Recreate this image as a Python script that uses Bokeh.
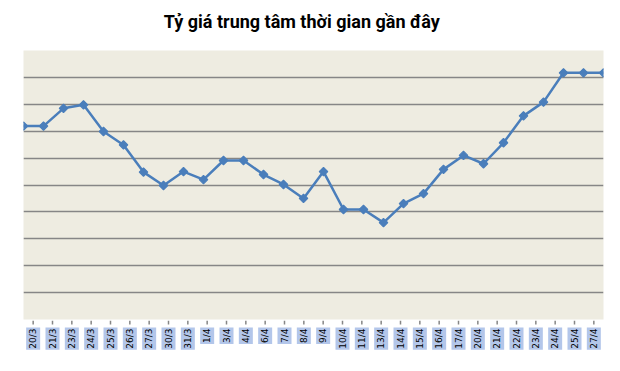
import math
from bokeh.plotting import figure
from bokeh.layouts import column
from bokeh.models import ColumnDataSource, Range1d, FixedTicker, Grid, Text
from bokeh.core.properties import value
from bokeh.embed import file_html
from bokeh.resources import INLINE

title = "Tỷ giá trung tâm thời gian gần đây"
dates = ["20/3", "21/3", "23/3", "24/3", "25/3", "26/3", "27/3", "30/3", "31/3",
         "1/4", "3/4", "4/4", "6/4", "7/4", "8/4", "9/4", "10/4", "11/4", "13/4",
         "14/4", "15/4", "16/4", "17/4", "20/4", "21/4", "22/4", "23/4", "24/4",
         "25/4", "27/4"]
rate = [7.19, 7.19, 7.85, 7.98, 6.99, 6.49, 5.48, 4.98, 5.50, 5.20, 5.91, 5.91,
        5.39, 5.02, 4.50, 5.50, 4.09, 4.09, 3.60, 4.31, 4.68, 5.58, 6.10, 5.79,
        6.57, 7.57, 8.08, 9.17, 9.17, 9.17]
grid_levels = list(range(0, 11))

xs = list(range(len(dates)))
src = ColumnDataSource(dict(x=xs, rate=rate, label=dates))

W = 620


def bare(fig):
    fig.outline_line_color = None
    fig.background_fill_color = "white"
    fig.border_fill_color = "white"
    for g in fig.grid:
        g.visible = False


# --- title strip ---
t = figure(width=W, height=49, output_backend="svg", toolbar_location=None,
           x_range=Range1d(0, W), y_range=Range1d(0, 49),
           x_axis_location=None, y_axis_location=None,
           min_border_left=0, min_border_right=0, min_border_top=0, min_border_bottom=0)
bare(t)
t.text(x=[150], y=[28], text=[title], text_font=value("Roboto"),
       text_font_size="18px", text_font_style="bold", text_color="black",
       text_align="left", text_baseline="alphabetic")

# --- main chart ---
p = figure(width=W, height=271, output_backend="svg", toolbar_location=None,
           x_range=Range1d(0, len(dates) - 1), y_range=Range1d(0, 10),
           x_axis_location=None, y_axis_location=None,
           min_border_left=23, min_border_right=17, min_border_top=1, min_border_bottom=1)
bare(p)
p.background_fill_color = "#eeece1"
p.add_layout(Grid(dimension=1, ticker=FixedTicker(ticks=grid_levels),
                  grid_line_color="#868686", grid_line_width=1.5))

p.line("x", "rate", source=src, line_color="#4a7ebb", line_width=2.5)
p.scatter("x", "rate", source=src, marker="square", angle=math.pi / 4, size=6,
          fill_color="#4a7ebb", line_color="#4a7ebb", line_width=1.2)

# --- category label strip, same 20 px per category as the chart ---
q = figure(width=W, height=51, output_backend="svg", toolbar_location=None,
           x_range=Range1d(-0.5, len(dates) - 0.5), y_range=Range1d(0, 51),
           x_axis_location=None, y_axis_location=None,
           min_border_left=13, min_border_right=7, min_border_top=0, min_border_bottom=0)
bare(q)

# tick marks under each category
q.segment(x0="x", y0=51, x1="x", y1=47, source=src,
          line_color="#868686", line_width=1.5)

kw = dict(x="x", y=44, text="label", source=src, angle=math.pi / 2,
          text_align="right", text_baseline="middle",
          text_font=value("DejaVu Sans"), text_font_size="9px", text_color="black")
props = Text.properties()
if "background_fill_color" in props:
    kw["background_fill_color"] = "#b3c6ea"
if "padding" in props:
    kw["padding"] = (1, 2)
q.text(**kw)

open("out.html", "w").write(file_html(column(t, p, q, spacing=0), INLINE))
